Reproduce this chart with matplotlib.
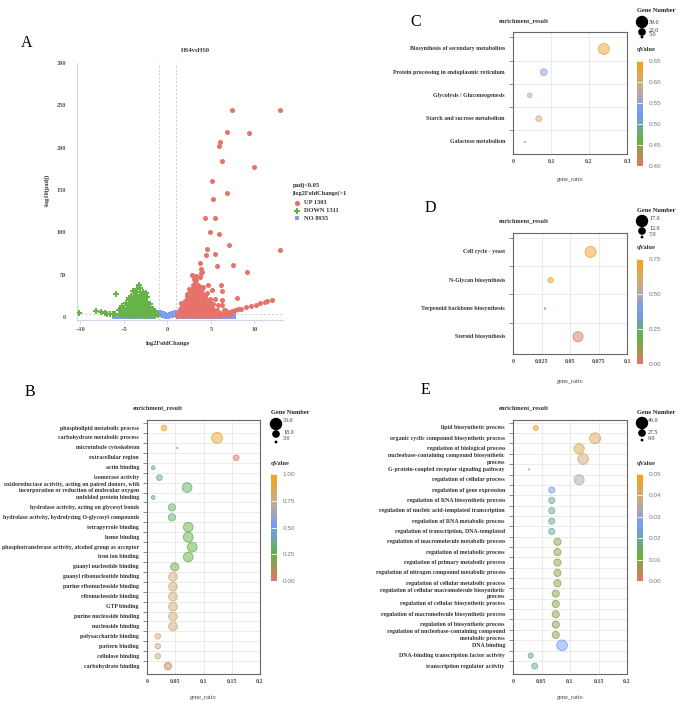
import matplotlib
matplotlib.use('Agg')

import numpy as np
import matplotlib.pyplot as plt
import matplotlib.transforms as mtransforms
from matplotlib.colors import LinearSegmentedColormap, Normalize
from matplotlib.colorbar import ColorbarBase

W, H = 685, 708
SERIF = 'Liberation Serif'
SANS = 'Liberation Sans'

# ---------------- volcano (A) ----------------
up_outliers = [(7.4, 244), (13.0, 244), (6.8, 219), (9.4, 217), (6.1, 207), (5.9, 202),
               (6.3, 184), (10.0, 177), (5.15, 161), (6.9, 146), (5.3, 139), (4.3, 117),
               (5.5, 117), (4.9, 100), (5.9, 98), (7.05, 85), (12.95, 79), (4.5, 80),
               (4.4, 73), (5.5, 75), (3.8, 64), (5.7, 60), (7.6, 61), (3.9, 57), (9.15, 53),
               (2.8, 50), (3.9, 52), (3.3, 49), (3.26, 44), (3.8, 47), (4.0, 53), (4.1, 36),
               (4.5, 28), (4.9, 21), (5.27, 15), (5.85, 14), (6.3, 14), (6.6, 8), (5.7, 8),
               (4.7, 38), (6.2, 38), (5.1, 32), (6.3, 31), (8.0, 23), (5.5, 21), (6.3, 20),
               (12.05, 20), (11.5, 19), (11.2, 18), (10.6, 16), (10.2, 14.5), (9.6, 13),
               (9.0, 11.5), (8.5, 10), (8.1, 9.5), (7.8, 8.5), (7.4, 7.5), (7.0, 6), (6.7, 5),
               (2.2, 27), (2.5, 33), (3.7, 36), (4.3, 25), (4.0, 33), (1.6, 16), (5.0, 17),
               (4.8, 19), (3.1, 45)]
up_cols = {1.1: [1, 4], 1.4: [3, 7, 10], 1.7: [1, 5, 9, 13], 2.0: [3, 7, 11, 15, 19],
           2.3: [1, 5, 9, 13, 17, 21, 25], 2.6: [3, 7, 11, 15, 19, 23, 27, 31],
           2.9: [1, 5, 9, 13, 17, 21, 25, 29, 34, 38],
           3.2: [3, 7, 11, 15, 19, 23, 27, 31, 35, 41],
           3.5: [1, 5, 9, 13, 17, 21, 25, 29, 33, 38],
           3.8: [3, 7, 11, 15, 19, 23, 27, 31], 4.1: [1, 5, 9, 13, 17, 22, 27],
           4.4: [3, 7, 11, 15, 20], 4.7: [1, 5, 9, 13], 5.0: [3, 7, 11], 5.3: [1, 5, 9],
           5.7: [3, 7], 6.1: [1, 5], 6.5: [3, 8], 6.9: [2], 7.3: [4]}

down_outliers = [(-10.2, 5), (-8.2, 7), (-7.6, 6), (-7.2, 5), (-6.9, 4), (-6.6, 3.5),
                 (-6.3, 3), (-6.0, 3), (-5.9, 27), (-5.6, 8), (-5.3, 9), (-5.2, 13),
                 (-4.8, 16), (-4.4, 22), (-4.0, 31), (-3.7, 28), (-3.25, 37.5), (-3.1, 34),
                 (-2.5, 28), (-2.3, 24), (-3.5, 33), (-4.2, 25), (-2.8, 30)]
down_cols = {-5.3: [2, 6], -5.0: [1, 4, 8, 11], -4.7: [2, 6, 10, 14],
             -4.4: [1, 4, 8, 12, 16, 20], -4.1: [2, 6, 10, 14, 18, 22],
             -3.8: [1, 4, 8, 12, 16, 20, 24], -3.5: [2, 6, 10, 14, 18, 22, 26],
             -3.2: [1, 4, 8, 12, 16, 20, 24, 29], -2.9: [2, 6, 10, 14, 18, 22, 26],
             -2.6: [1, 4, 8, 12, 16, 20, 24], -2.3: [2, 6, 10, 14, 18],
             -2.0: [1, 4, 8, 12, 15], -1.7: [2, 6, 10], -1.4: [1, 4, 7], -1.1: [2]}

no_x = [-6.0, -5.6, -5.2, -4.8, -4.4, -4.0, -3.6, -3.2, -2.8, -2.4, -2.0, -1.6,
        -1.2, -1.0, -0.8, -0.6, -0.4, 0.0, 0.4, 0.6, 0.8, 1.0, 1.2, 1.6, 2.0, 2.4,
        2.8, 3.2, 3.6, 4.0, 4.4, 4.8, 5.2, 5.6, 6.0, 6.4, 6.8, 7.2, 7.6]
no_y = [0.8, 0.8, 0.8, 0.8, 0.8, 0.8, 0.8, 0.8, 0.8, 0.8, 0.8, 1.5,
        4.5, 5.0, 4.0, 3.0, 2.0, 1.0, 2.0, 3.0, 4.0, 5.0, 4.5, 1.5, 0.8, 0.8,
        0.8, 0.8, 0.8, 0.8, 0.8, 0.8, 0.8, 0.8, 0.8, 0.8, 0.8, 0.8, 0.8]

# ---------------- GO enrichment (B) ----------------
B_terms = ['phospholipid metabolic process', 'carbohydrate metabolic process',
           'microtubule cytoskeleton', 'extracellular region', 'actin binding',
           'isomerase activity',
           'oxidoreductase activity, acting on paired donors, with\nincorporation or reduction of molecular oxygen',
           'unfolded protein binding', 'hydrolase activity, acting on glycosyl bonds',
           'hydrolase activity, hydrolyzing O-glycosyl compounds', 'tetrapyrrole binding',
           'heme binding', 'phosphotransferase activity, alcohol group as acceptor',
           'iron ion binding', 'guanyl nucleotide binding', 'guanyl ribonucleotide binding',
           'purine ribonucleoside binding', 'ribonucleoside binding', 'GTP binding',
           'purine nucleoside binding', 'nucleoside binding', 'polysaccharide binding',
           'pattern binding', 'cellulose binding', 'carbohydrate binding']
B_ratio = [0.030, 0.124, 0.053, 0.158, 0.011, 0.022, 0.071, 0.011, 0.044, 0.044, 0.073,
           0.073, 0.080, 0.073, 0.049, 0.046, 0.046, 0.046, 0.046, 0.046, 0.046, 0.019,
           0.019, 0.019, 0.037]
B_count = [16, 33, 3, 16, 10, 16, 29, 10, 21, 21, 29, 29, 29, 29, 24, 26, 26, 26, 26, 26,
           26, 16, 16, 16, 21]
B_q = [0.95, 0.92, 1.0, 0.02, 0.36, 0.33, 0.32, 0.36, 0.31, 0.31, 0.27, 0.27, 0.26, 0.24,
       0.22, 0.78, 0.78, 0.78, 0.78, 0.78, 0.78, 0.78, 0.78, 0.78, 0.05]

# ---------------- KEGG (C) ----------------
C_terms = ['Biosynthesis of secondary metabolites', 'Protein processing in endoplasmic reticulum',
           'Glycolysis / Gluconeogenesis', 'Starch and sucrose metabolism', 'Galactose metabolism']
C_ratio = [0.239, 0.081, 0.044, 0.068, 0.032]
C_count = [39, 24, 16, 21, 5]
C_q = [0.630, 0.545, 0.585, 0.595, 0.610]

# ---------------- KEGG (D) ----------------
D_terms = ['Cell cycle - yeast', 'N-Glycan biosynthesis', 'Terpenoid backbone biosynthesis',
           'Steroid biosynthesis']
D_ratio = [0.068, 0.033, 0.028, 0.057]
D_count = [17, 11, 7, 16]
D_q = [0.72, 0.74, 0.22, 0.03]

# ---------------- GO enrichment (E) ----------------
E_terms = ['lipid biosynthetic process', 'organic cyclic compound biosynthetic process',
           'regulation of biological process',
           'nucleobase-containing compound biosynthetic\nprocess',
           'G-protein-coupled receptor signaling pathway', 'regulation of cellular process',
           'regulation of gene expression', 'regulation of RNA biosynthetic process',
           'regulation of nucleic acid-templated transcription',
           'regulation of RNA metabolic process', 'regulation of transcription, DNA-templated',
           'regulation of macromolecule metabolic process', 'regulation of metabolic process',
           'regulation of primary metabolic process',
           'regulation of nitrogen compound metabolic process',
           'regulation of cellular metabolic process',
           'regulation of cellular macromolecule biosynthetic\nprocess',
           'regulation of cellular biosynthetic process',
           'regulation of macromolecule biosynthetic process',
           'regulation of biosynthetic process',
           'regulation of nucleobase-containing compound\nmetabolic process',
           'DNA binding', 'DNA-binding transcription factor activity',
           'transcription regulator activity']
E_ratio = [0.040, 0.144, 0.116, 0.123, 0.028, 0.116, 0.068, 0.068, 0.068, 0.068, 0.068,
           0.078, 0.078, 0.078, 0.078, 0.078, 0.075, 0.075, 0.075, 0.075, 0.075, 0.086,
           0.031, 0.038]
E_count = [22, 46, 43, 45, 9, 42, 27, 27, 27, 27, 27, 31, 31, 31, 31, 31, 31, 31, 31, 31,
           31, 45, 23, 26]
E_q = [0.050, 0.042, 0.043, 0.039, 0.037, 0.034, 0.026, 0.019, 0.019, 0.019, 0.019, 0.009,
       0.009, 0.009, 0.009, 0.009, 0.009, 0.009, 0.009, 0.009, 0.009, 0.025, 0.019, 0.019]

cmap = LinearSegmentedColormap.from_list(
    'qv', ['#e8746a', '#64b33f', '#6f9cf6', '#c8ad88', '#f7a116'])


def px_axes(fig, x0, y0, x1, y1):
    return fig.add_axes([x0 / W, 1 - y1 / H, (x1 - x0) / W, (y1 - y0) / H])


def diam(v, lo, hi):
    # bubble diameter in pixels -> scatter size in pt^2
    d = 1.5 + (np.asarray(v, float) - lo) / (hi - lo) * 9.5
    return (d * 0.72) ** 2


def bubble_panel(fig, box, terms, ratio, count, qval, cnt_rng, q_rng, xticks, xlabels, pads):
    ax = px_axes(fig, *box)
    n = len(terms)
    rows = np.arange(n)
    cols = cmap(Normalize(*q_rng)(np.asarray(qval)))
    face = cols.copy()
    face[:, 3] = 0.5
    edge = cols.copy()
    edge[:, 3] = 0.85
    ax.scatter(ratio, rows, s=diam(count, *cnt_rng), c=face, edgecolors=edge,
               linewidths=0.6, zorder=3)
    ax.set_xlim(xticks[0], xticks[-1])
    ax.set_ylim(n - 1 + pads[1], -0.5 - pads[0])
    ax.set_yticks(rows - 0.5)
    ax.set_yticklabels([])
    ax.set_xticks(xticks)
    ax.set_xticklabels(xlabels, fontfamily=SERIF, fontweight='bold', fontsize=4.3, color='#444')
    ax.tick_params(axis='y', length=3, width=0.6, color='#777', direction='out')
    ax.tick_params(axis='x', length=0, pad=3.5)
    ax.grid(True, color='#e8e8e8', lw=0.6)
    ax.set_axisbelow(True)
    for s in ax.spines.values():
        s.set_color('#666')
        s.set_linewidth(0.8)
    trans = mtransforms.blended_transform_factory(ax.transAxes, ax.transData)
    xoff = -8.0 / (box[2] - box[0])
    for r, t in zip(rows, terms):
        ax.text(xoff, r, t, transform=trans, ha='right', va='center', fontsize=4.2,
                fontfamily=SERIF, fontweight='bold', color='#333', linespacing=1.45)
    return ax


def colorbar(fig, box, q_rng, ticks, labels):
    cax = px_axes(fig, *box)
    cb = ColorbarBase(cax, cmap=cmap, norm=Normalize(*q_rng), orientation='vertical')
    cb.outline.set_visible(False)
    cb.set_ticks(ticks)
    cb.set_ticklabels(labels)
    cax.tick_params(length=4.3, width=0.6, color='white', direction='in',
                    labelsize=4.6, labelcolor='#777', pad=4)
    for t in cax.get_yticklabels():
        t.set_fontfamily(SANS)


def size_legend(ov, x, ytitle, cy, ly, vals, rng, lab_dx):
    ov.text(x, ytitle, 'Gene Number', ha='left', va='center', fontsize=4.6,
            fontfamily=SERIF, fontweight='bold', color='#222')
    ov.scatter([x + 5] * 3, cy, s=diam(vals, *rng), color='black', zorder=5)
    for yy, v in zip(ly, vals):
        ov.text(x + lab_dx, yy, '{:.1f}'.format(v), ha='left', va='center', fontsize=4.3,
                fontfamily=SERIF, color='#333')


def main():
    fig = plt.figure(figsize=(W / 100, H / 100), dpi=100)

    # ---- A: volcano
    ax = px_axes(fig, 77, 63, 283, 320)
    ax.scatter(no_x, no_y, marker='s', s=13, color='#7f9ef2', linewidths=0, zorder=2)
    dx = [p[0] for p in down_outliers] + [k for k, v in down_cols.items() for _ in v]
    dy = [p[1] for p in down_outliers] + [y for v in down_cols.values() for y in v]
    ax.scatter(dx, dy, marker='P', s=15, color='#66b447', linewidths=0, zorder=3)
    ux = [p[0] for p in up_outliers] + [k for k, v in up_cols.items() for _ in v]
    uy = [p[1] for p in up_outliers] + [y for v in up_cols.values() for y in v]
    ax.scatter(ux, uy, marker='o', s=13, color='#e5736a', linewidths=0, zorder=3)
    ax.axvline(-1, color='#cccccc', lw=0.7, ls=(0, (2, 2)), zorder=1)
    ax.axvline(1, color='#cccccc', lw=0.7, ls=(0, (2, 2)), zorder=1)
    ax.axhline(4, color='#cccccc', lw=0.7, ls=(0, (2, 2)), zorder=1)
    ax.set_xlim(-10.4, 13.3)
    ax.set_ylim(-3.5, 300)
    ax.set_xticks([-10, -5, 0, 5, 10])
    ax.set_yticks([0, 50, 100, 150, 200, 250, 300])
    for lab in ax.get_xticklabels() + ax.get_yticklabels():
        lab.set_fontfamily(SERIF)
        lab.set_fontweight('bold')
        lab.set_fontsize(4.5)
        lab.set_color('#555')
    ax.tick_params(axis='y', length=0, pad=8)
    ax.tick_params(axis='x', length=3, width=0.6, color='#ccd6eb', pad=2)
    ax.spines['top'].set_visible(False)
    ax.spines['right'].set_visible(False)
    ax.spines['left'].set_color('#ccd6eb')
    ax.spines['bottom'].set_color('#ccd6eb')

    # ---- B, C, D, E
    bubble_panel(fig, (147, 420, 260, 674), B_terms, B_ratio, B_count, B_q, (3, 33), (0, 1),
                 [0, 0.05, 0.1, 0.15, 0.2], ['0', '0.05', '0.1', '0.15', '0.2'], (0.31, 0.8))
    bubble_panel(fig, (513, 32, 627, 154), C_terms, C_ratio, C_count, C_q, (5, 39), (0.40, 0.65),
                 [0, 0.1, 0.2, 0.3], ['0', '0.1', '0.2', '0.3'], (0.23, 0.52))
    bubble_panel(fig, (513, 233, 627, 354), D_terms, D_ratio, D_count, D_q, (7, 17), (0, 0.75),
                 [0, 0.025, 0.05, 0.075, 0.1], ['0', '0.025', '0.05', '0.075', '0.1'], (0.17, 0.61))
    bubble_panel(fig, (513, 420, 627, 674), E_terms, E_ratio, E_count, E_q, (9, 46), (0, 0.05),
                 [0, 0.05, 0.1, 0.15, 0.2], ['0', '0.05', '0.1', '0.15', '0.2'], (0.27, 0.77))

    colorbar(fig, (271, 474, 277, 581), (0, 1), [0, 0.25, 0.5, 0.75, 1.0],
             ['0.00', '0.25', '0.50', '0.75', '1.00'])
    colorbar(fig, (637, 61, 643, 166), (0.40, 0.65), [0.40, 0.45, 0.50, 0.55, 0.60, 0.65],
             ['0.40', '0.45', '0.50', '0.55', '0.60', '0.65'])
    colorbar(fig, (637, 259, 643, 364), (0, 0.75), [0, 0.25, 0.5, 0.75],
             ['0.00', '0.25', '0.50', '0.75'])
    colorbar(fig, (637, 474, 643, 581), (0, 0.05), [0, 0.01, 0.02, 0.03, 0.04, 0.05],
             ['0.00', '0.01', '0.02', '0.03', '0.04', '0.05'])

    # ---- overlay for annotations in pixel coordinates
    ov = fig.add_axes([0, 0, 1, 1])
    ov.set_xlim(0, W)
    ov.set_ylim(H, 0)
    ov.axis('off')

    letter = dict(fontsize=11.5, fontfamily=SERIF, color='black', ha='center', va='center')
    ov.text(27, 43, 'A', **letter)
    ov.text(30, 392, 'B', **letter)
    ov.text(416, 22, 'C', **letter)
    ov.text(430, 208, 'D', **letter)
    ov.text(425, 390, 'E', **letter)

    bold = dict(fontfamily=SERIF, fontweight='bold', color='#333', fontsize=4.6)
    norm_txt = dict(fontfamily=SERIF, color='#444', fontsize=4.5, ha='center', va='center')
    ov.text(195, 50, 'HS4vsHS0', ha='center', va='center', **bold)
    ov.text(47, 190, '-log10(padj)', ha='center', va='center', rotation=90, **bold)
    ov.text(168, 344, 'log2FoldChange', ha='center', va='center', **bold)
    ov.text(293, 185, 'padj<0.05', ha='left', va='center', **bold)
    ov.text(293, 193, '|log2FoldChange|>1', ha='left', va='center', **bold)
    ov.scatter([297], [203], marker='o', s=14, color='#e5736a', linewidths=0)
    ov.scatter([297], [211], marker='P', s=14, color='#66b447', linewidths=0)
    ov.scatter([297], [218], marker='s', s=12, color='#7f9ef2', linewidths=0)
    ov.text(304, 203, 'UP 1303', ha='left', va='center', **bold)
    ov.text(304, 211, 'DOWN 1311', ha='left', va='center', **bold)
    ov.text(304, 218, 'NO 8935', ha='left', va='center', **bold)

    for tx, ty in [(158, 408), (524, 21), (524, 221), (524, 408)]:
        ov.text(tx, ty, 'enrichment_result', ha='center', va='center', **bold)
    for tx, ty in [(203, 698), (570, 180), (570, 382), (570, 698)]:
        ov.text(tx, ty, 'gene_ratio', **norm_txt)
    for tx, ty in [(271, 464), (637, 50), (637, 248), (637, 464)]:
        ov.text(tx, ty, 'qValue', ha='left', va='center', **bold)

    size_legend(ov, 637, 11, [22, 32, 37], [22, 30, 35], [39, 22, 5], (5, 39), 12)
    size_legend(ov, 637, 210, [221, 231, 237], [219, 229, 235], [17, 12, 7], (7, 17), 12)
    size_legend(ov, 271, 413, [424, 434, 442], [421, 432, 439], [33, 18, 3], (3, 33), 12)
    size_legend(ov, 637, 413, [423, 433, 440], [421, 432, 439], [46, 27.5, 9], (9, 46), 11)

    fig.savefig('out.png', dpi=100)


if __name__ == '__main__':
    main()
